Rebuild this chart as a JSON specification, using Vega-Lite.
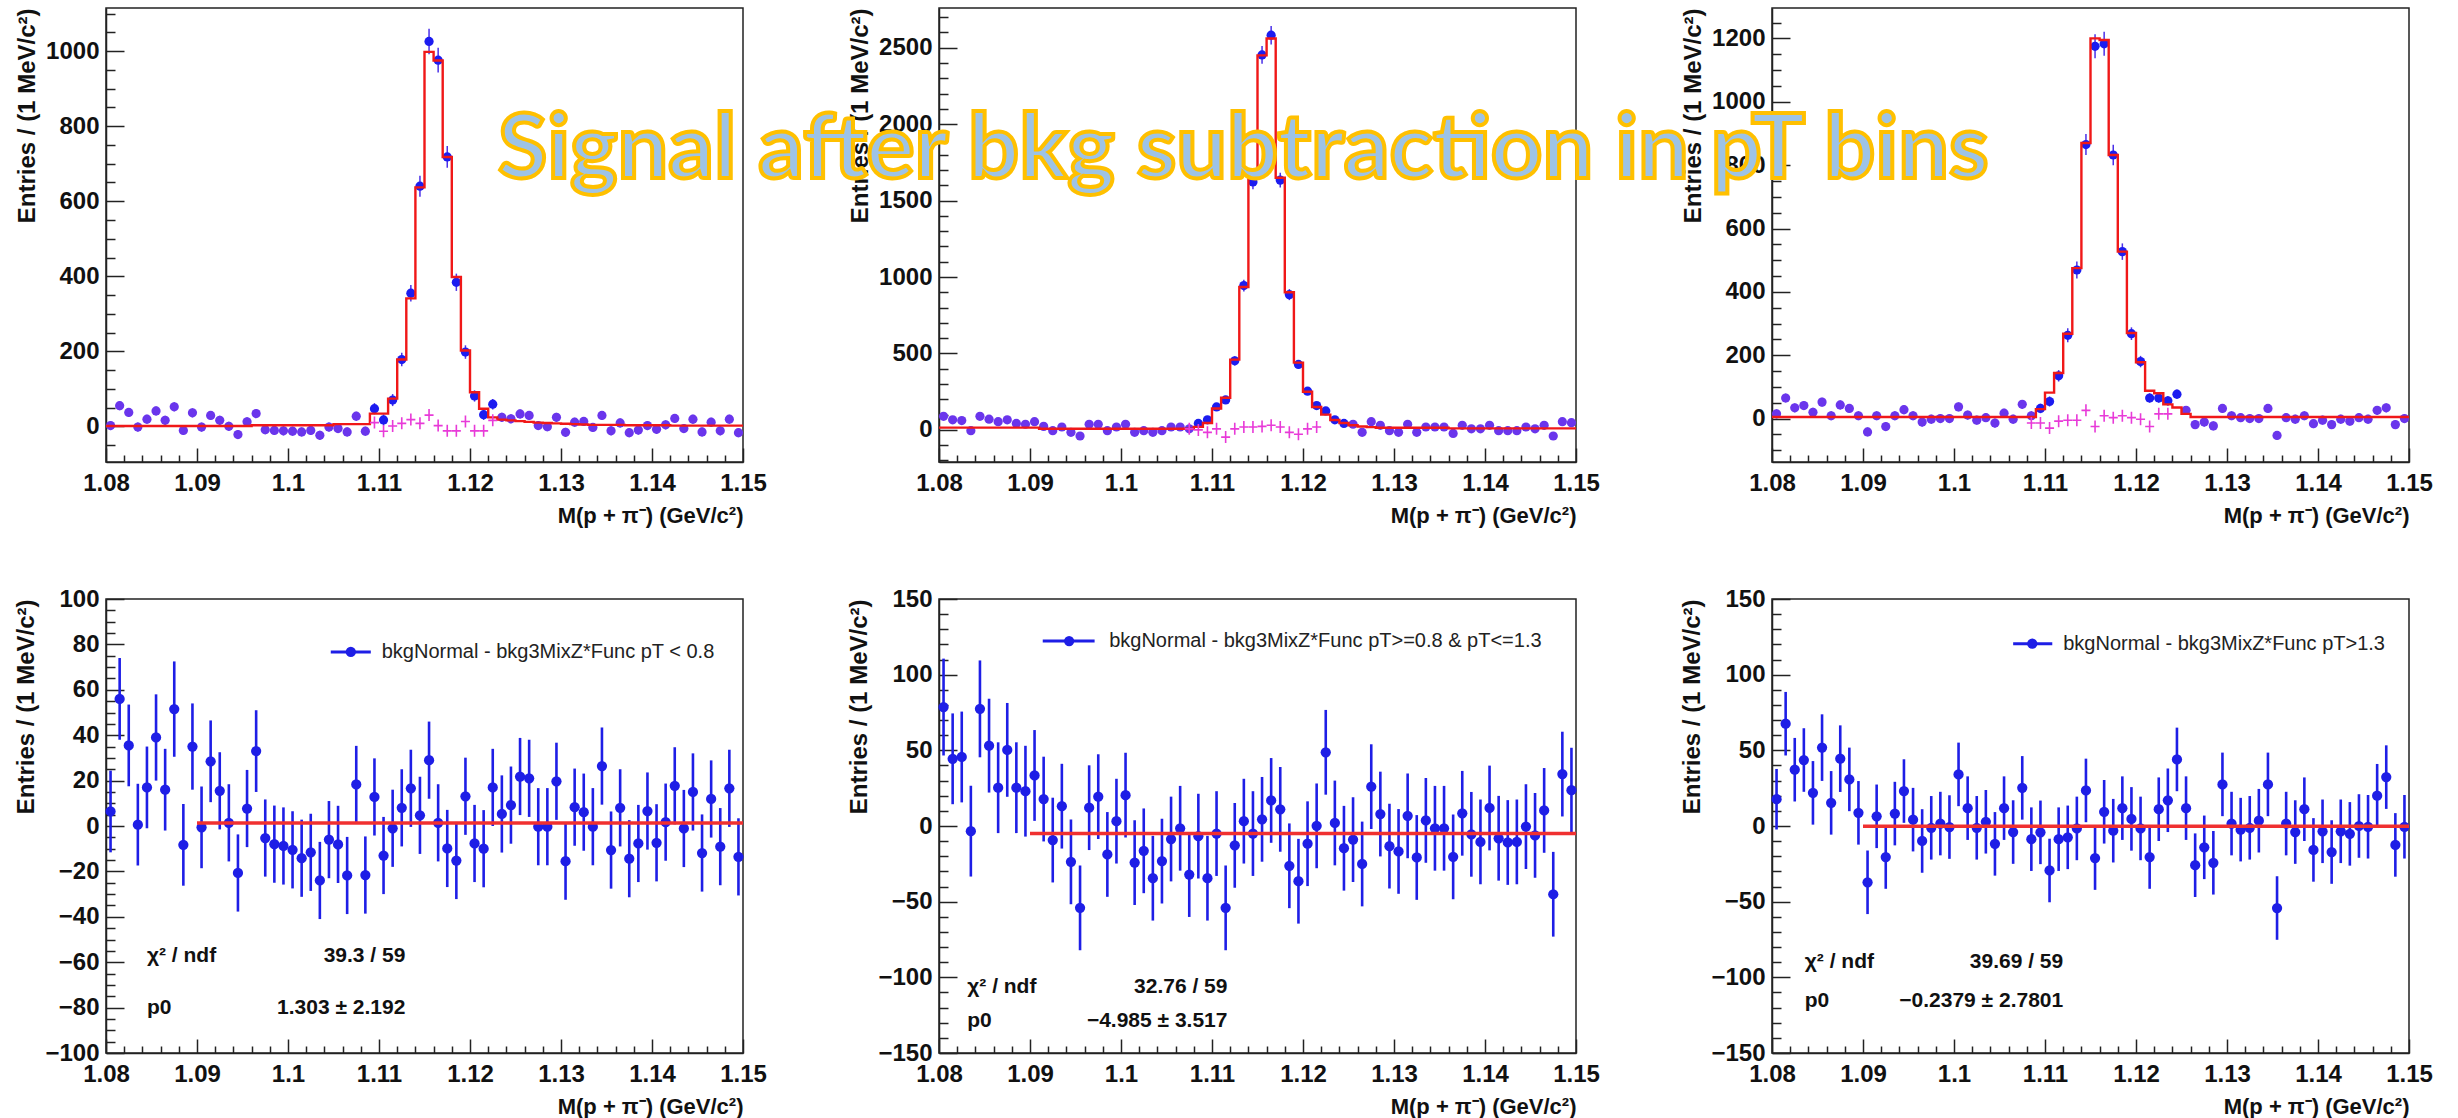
{
"$schema": "https://vega.github.io/schema/vega-lite/v6.json",
"background": "white",
"padding": {"left": 14, "top": 0, "right": 2, "bottom": 0},
"columns": 3,
"spacing": {"row": 137, "column": 196},
"bounds": "flush",
"config": {
  "view": {"stroke": "#222", "strokeWidth": 1.5},
  "font": "Liberation Sans",
  "axis": {"labelFont": "Liberation Sans", "labelFontSize": 24, "labelFontWeight": "bold", "labelColor": "#111", "titleFont": "Liberation Sans", "titleFontSize": 24, "titleFontWeight": "bold", "titleColor": "#111", "domainColor": "#222", "domainWidth": 1.5, "tickColor": "#222", "tickWidth": 1.5, "grid": false, "labelOverlap": false, "labelFlush": false}
},
"datasets": {
  "t1d": [
    {"x":1.0805,"y":2,"e":12,"r":"s"},{"x":1.0815,"y":55,"e":12,"r":"s"},{"x":1.0825,"y":37,"e":12,"r":"s"},{"x":1.0835,"y":-2,"e":12,"r":"s"},{"x":1.0845,"y":19,"e":12,"r":"s"},{"x":1.0855,"y":41,"e":12,"r":"s"},{"x":1.0865,"y":16,"e":12,"r":"s"},{"x":1.0875,"y":52,"e":12,"r":"s"},{"x":1.0885,"y":-11,"e":12,"r":"s"},{"x":1.0895,"y":36,"e":12,"r":"s"},
    {"x":1.0905,"y":-2,"e":12,"r":"s"},{"x":1.0915,"y":29,"e":12,"r":"s"},{"x":1.0925,"y":16,"e":12,"r":"s"},{"x":1.0935,"y":0,"e":12,"r":"s"},{"x":1.0945,"y":-22,"e":12,"r":"s"},{"x":1.0955,"y":12,"e":12,"r":"s"},{"x":1.0965,"y":34,"e":12,"r":"s"},{"x":1.0975,"y":-9,"e":12,"r":"s"},{"x":1.0985,"y":-11,"e":12,"r":"s"},{"x":1.0995,"y":-12,"e":12,"r":"s"},
    {"x":1.1005,"y":-13,"e":12,"r":"s"},{"x":1.1015,"y":-15,"e":12,"r":"s"},{"x":1.1025,"y":-11,"e":12,"r":"s"},{"x":1.1035,"y":-24,"e":12,"r":"s"},{"x":1.1045,"y":-2,"e":12,"r":"s"},{"x":1.1055,"y":-6,"e":12,"r":"s"},{"x":1.1065,"y":-15,"e":12,"r":"s"},{"x":1.1075,"y":27,"e":12,"r":"s"},{"x":1.1085,"y":-13,"e":12,"r":"s"},{"x":1.1095,"y":47,"e":15,"r":"p"},
    {"x":1.1105,"y":17,"e":15,"r":"p"},{"x":1.1115,"y":70,"e":16,"r":"p"},{"x":1.1125,"y":178,"e":18,"r":"p"},{"x":1.1135,"y":355,"e":22,"r":"p"},{"x":1.1145,"y":640,"e":28,"r":"p"},{"x":1.1155,"y":1026,"e":34,"r":"p"},{"x":1.1165,"y":976,"e":33,"r":"p"},{"x":1.1175,"y":718,"e":29,"r":"p"},{"x":1.1185,"y":384,"e":23,"r":"p"},{"x":1.1195,"y":198,"e":18,"r":"p"},
    {"x":1.1205,"y":81,"e":15,"r":"p"},{"x":1.1215,"y":31,"e":14,"r":"p"},{"x":1.1225,"y":59,"e":14,"r":"p"},{"x":1.1235,"y":24,"e":12,"r":"s"},{"x":1.1245,"y":20,"e":12,"r":"s"},{"x":1.1255,"y":33,"e":12,"r":"s"},{"x":1.1265,"y":29,"e":12,"r":"s"},{"x":1.1275,"y":2,"e":12,"r":"s"},{"x":1.1285,"y":-1,"e":12,"r":"s"},{"x":1.1295,"y":24,"e":12,"r":"s"},
    {"x":1.1305,"y":-16,"e":12,"r":"s"},{"x":1.1315,"y":11,"e":12,"r":"s"},{"x":1.1325,"y":13,"e":12,"r":"s"},{"x":1.1335,"y":-3,"e":12,"r":"s"},{"x":1.1345,"y":29,"e":12,"r":"s"},{"x":1.1355,"y":-12,"e":12,"r":"s"},{"x":1.1365,"y":9,"e":12,"r":"s"},{"x":1.1375,"y":-17,"e":12,"r":"s"},{"x":1.1385,"y":-10,"e":12,"r":"s"},{"x":1.1395,"y":2,"e":12,"r":"s"},
    {"x":1.1405,"y":-8,"e":12,"r":"s"},{"x":1.1415,"y":4,"e":12,"r":"s"},{"x":1.1425,"y":21,"e":12,"r":"s"},{"x":1.1435,"y":-6,"e":12,"r":"s"},{"x":1.1445,"y":19,"e":12,"r":"s"},{"x":1.1455,"y":-15,"e":12,"r":"s"},{"x":1.1465,"y":11,"e":12,"r":"s"},{"x":1.1475,"y":-12,"e":12,"r":"s"},{"x":1.1485,"y":19,"e":12,"r":"s"},{"x":1.1495,"y":-17,"e":12,"r":"s"}
  ],
  "t1h": [
    {"x":1.08,"y":1},{"x":1.0805,"y":1},{"x":1.0815,"y":1},{"x":1.0825,"y":1},{"x":1.0835,"y":1},{"x":1.0845,"y":1},{"x":1.0855,"y":1},{"x":1.0865,"y":1},{"x":1.0875,"y":1},{"x":1.0885,"y":1},{"x":1.0895,"y":1},
    {"x":1.0905,"y":1},{"x":1.0915,"y":1},{"x":1.0925,"y":1},{"x":1.0935,"y":1},{"x":1.0945,"y":1},{"x":1.0955,"y":1},{"x":1.0965,"y":3},{"x":1.0975,"y":3},{"x":1.0985,"y":3},{"x":1.0995,"y":3},
    {"x":1.1005,"y":3},{"x":1.1015,"y":3},{"x":1.1025,"y":3},{"x":1.1035,"y":3},{"x":1.1045,"y":3},{"x":1.1055,"y":6},{"x":1.1065,"y":6},{"x":1.1075,"y":6},{"x":1.1085,"y":6},{"x":1.1095,"y":34},
    {"x":1.1105,"y":34},{"x":1.1115,"y":74},{"x":1.1125,"y":178},{"x":1.1135,"y":341},{"x":1.1145,"y":637},{"x":1.1155,"y":998},{"x":1.1165,"y":975},{"x":1.1175,"y":718},{"x":1.1185,"y":398},{"x":1.1195,"y":202},
    {"x":1.1205,"y":91},{"x":1.1215,"y":47},{"x":1.1225,"y":24},{"x":1.1235,"y":18},{"x":1.1245,"y":16},{"x":1.1255,"y":14},{"x":1.1265,"y":12},{"x":1.1275,"y":10},{"x":1.1285,"y":9},{"x":1.1295,"y":8},
    {"x":1.1305,"y":7},{"x":1.1315,"y":6},{"x":1.1325,"y":5},{"x":1.1335,"y":4},{"x":1.1345,"y":4},{"x":1.1355,"y":4},{"x":1.1365,"y":4},{"x":1.1375,"y":3},{"x":1.1385,"y":3},{"x":1.1395,"y":3},
    {"x":1.1405,"y":3},{"x":1.1415,"y":3},{"x":1.1425,"y":2},{"x":1.1435,"y":2},{"x":1.1445,"y":2},{"x":1.1455,"y":2},{"x":1.1465,"y":2},{"x":1.1475,"y":2},{"x":1.1485,"y":2},{"x":1.1495,"y":2},{"x":1.15,"y":2}
  ],
  "t1c": [
    {"x":1.1095,"y":10},{"x":1.1105,"y":-13},{"x":1.1115,"y":1},{"x":1.1125,"y":8},{"x":1.1135,"y":18},{"x":1.1145,"y":8},{"x":1.1155,"y":30},{"x":1.1165,"y":2},{"x":1.1175,"y":-12},{"x":1.1185,"y":-12},{"x":1.1195,"y":13},{"x":1.1205,"y":-12},{"x":1.1215,"y":-12},{"x":1.1225,"y":16}
  ],
  "t2d": [
    {"x":1.0805,"y":89,"e":22,"r":"s"},{"x":1.0815,"y":66,"e":22,"r":"s"},{"x":1.0825,"y":61,"e":22,"r":"s"},{"x":1.0835,"y":-5,"e":22,"r":"s"},{"x":1.0845,"y":89,"e":22,"r":"s"},{"x":1.0855,"y":70,"e":22,"r":"s"},{"x":1.0865,"y":54,"e":22,"r":"s"},{"x":1.0875,"y":66,"e":22,"r":"s"},{"x":1.0885,"y":42,"e":22,"r":"s"},{"x":1.0895,"y":37,"e":22,"r":"s"},
    {"x":1.0905,"y":54,"e":22,"r":"s"},{"x":1.0915,"y":23,"e":22,"r":"s"},{"x":1.0925,"y":-5,"e":22,"r":"s"},{"x":1.0935,"y":19,"e":22,"r":"s"},{"x":1.0945,"y":-16,"e":22,"r":"s"},{"x":1.0955,"y":-40,"e":22,"r":"s"},{"x":1.0965,"y":37,"e":22,"r":"s"},{"x":1.0975,"y":37,"e":22,"r":"s"},{"x":1.0985,"y":-5,"e":22,"r":"s"},{"x":1.0995,"y":19,"e":22,"r":"s"},
    {"x":1.1005,"y":37,"e":22,"r":"s"},{"x":1.1015,"y":-16,"e":22,"r":"s"},{"x":1.1025,"y":-5,"e":22,"r":"s"},{"x":1.1035,"y":-16,"e":22,"r":"s"},{"x":1.1045,"y":-5,"e":22,"r":"s"},{"x":1.1055,"y":19,"e":22,"r":"s"},{"x":1.1065,"y":19,"e":22,"r":"s"},{"x":1.1075,"y":7,"e":22,"r":"s"},{"x":1.1085,"y":42,"e":22,"r":"p"},{"x":1.1095,"y":66,"e":22,"r":"p"},
    {"x":1.1105,"y":150,"e":24,"r":"p"},{"x":1.1115,"y":196,"e":25,"r":"p"},{"x":1.1125,"y":452,"e":30,"r":"p"},{"x":1.1135,"y":944,"e":38,"r":"p"},{"x":1.1145,"y":1622,"e":48,"r":"p"},{"x":1.1155,"y":2453,"e":58,"r":"p"},{"x":1.1165,"y":2582,"e":60,"r":"p"},{"x":1.1175,"y":1634,"e":48,"r":"p"},{"x":1.1185,"y":885,"e":36,"r":"p"},{"x":1.1195,"y":428,"e":28,"r":"p"},
    {"x":1.1205,"y":253,"e":25,"r":"p"},{"x":1.1215,"y":159,"e":23,"r":"p"},{"x":1.1225,"y":124,"e":23,"r":"p"},{"x":1.1235,"y":66,"e":22,"r":"p"},{"x":1.1245,"y":42,"e":22,"r":"p"},{"x":1.1255,"y":37,"e":22,"r":"s"},{"x":1.1265,"y":-16,"e":22,"r":"s"},{"x":1.1275,"y":54,"e":22,"r":"s"},{"x":1.1285,"y":30,"e":22,"r":"s"},{"x":1.1295,"y":-5,"e":22,"r":"s"},
    {"x":1.1305,"y":-16,"e":22,"r":"s"},{"x":1.1315,"y":37,"e":22,"r":"s"},{"x":1.1325,"y":-16,"e":22,"r":"s"},{"x":1.1335,"y":19,"e":22,"r":"s"},{"x":1.1345,"y":19,"e":22,"r":"s"},{"x":1.1355,"y":19,"e":22,"r":"s"},{"x":1.1365,"y":-23,"e":22,"r":"s"},{"x":1.1375,"y":30,"e":22,"r":"s"},{"x":1.1385,"y":7,"e":22,"r":"s"},{"x":1.1395,"y":7,"e":22,"r":"s"},
    {"x":1.1405,"y":30,"e":22,"r":"s"},{"x":1.1415,"y":-5,"e":22,"r":"s"},{"x":1.1425,"y":-5,"e":22,"r":"s"},{"x":1.1435,"y":-5,"e":22,"r":"s"},{"x":1.1445,"y":19,"e":22,"r":"s"},{"x":1.1455,"y":7,"e":22,"r":"s"},{"x":1.1465,"y":30,"e":22,"r":"s"},{"x":1.1475,"y":-40,"e":22,"r":"s"},{"x":1.1485,"y":54,"e":22,"r":"s"},{"x":1.1495,"y":47,"e":22,"r":"s"}
  ],
  "t2h": [
    {"x":1.08,"y":15},{"x":1.0805,"y":15},{"x":1.0815,"y":15},{"x":1.0825,"y":15},{"x":1.0835,"y":15},{"x":1.0845,"y":15},{"x":1.0855,"y":15},{"x":1.0865,"y":15},{"x":1.0875,"y":15},{"x":1.0885,"y":15},{"x":1.0895,"y":15},
    {"x":1.0905,"y":15},{"x":1.0915,"y":8},{"x":1.0925,"y":8},{"x":1.0935,"y":8},{"x":1.0945,"y":8},{"x":1.0955,"y":8},{"x":1.0965,"y":8},{"x":1.0975,"y":8},{"x":1.0985,"y":8},{"x":1.0995,"y":8},
    {"x":1.1005,"y":8},{"x":1.1015,"y":8},{"x":1.1025,"y":8},{"x":1.1035,"y":8},{"x":1.1045,"y":8},{"x":1.1055,"y":8},{"x":1.1065,"y":8},{"x":1.1075,"y":8},{"x":1.1085,"y":20},{"x":1.1095,"y":45},
    {"x":1.1105,"y":140},{"x":1.1115,"y":210},{"x":1.1125,"y":460},{"x":1.1135,"y":935},{"x":1.1145,"y":1650},{"x":1.1155,"y":2450},{"x":1.1165,"y":2560},{"x":1.1175,"y":1650},{"x":1.1185,"y":900},{"x":1.1195,"y":440},
    {"x":1.1205,"y":250},{"x":1.1215,"y":150},{"x":1.1225,"y":100},{"x":1.1235,"y":65},{"x":1.1245,"y":45},{"x":1.1255,"y":30},{"x":1.1265,"y":22},{"x":1.1275,"y":18},{"x":1.1285,"y":14},{"x":1.1295,"y":14},
    {"x":1.1305,"y":14},{"x":1.1315,"y":14},{"x":1.1325,"y":14},{"x":1.1335,"y":14},{"x":1.1345,"y":14},{"x":1.1355,"y":14},{"x":1.1365,"y":10},{"x":1.1375,"y":10},{"x":1.1385,"y":10},{"x":1.1395,"y":10},
    {"x":1.1405,"y":10},{"x":1.1415,"y":10},{"x":1.1425,"y":10},{"x":1.1435,"y":10},{"x":1.1445,"y":10},{"x":1.1455,"y":10},{"x":1.1465,"y":10},{"x":1.1475,"y":10},{"x":1.1485,"y":10},{"x":1.1495,"y":10},{"x":1.15,"y":10}
  ],
  "t2c": [
    {"x":1.1075,"y":7},{"x":1.1085,"y":0},{"x":1.1095,"y":-16},{"x":1.1105,"y":7},{"x":1.1115,"y":-47},{"x":1.1125,"y":7},{"x":1.1135,"y":19},{"x":1.1145,"y":19},{"x":1.1155,"y":23},{"x":1.1165,"y":30},{"x":1.1175,"y":19},{"x":1.1185,"y":-16},{"x":1.1195,"y":-28},{"x":1.1205,"y":7},{"x":1.1215,"y":19}
  ],
  "t3d": [
    {"x":1.0805,"y":15,"e":14,"r":"s"},{"x":1.0815,"y":65,"e":14,"r":"s"},{"x":1.0825,"y":34,"e":14,"r":"s"},{"x":1.0835,"y":41,"e":14,"r":"s"},{"x":1.0845,"y":20,"e":14,"r":"s"},{"x":1.0855,"y":52,"e":14,"r":"s"},{"x":1.0865,"y":9,"e":14,"r":"s"},{"x":1.0875,"y":43,"e":14,"r":"s"},{"x":1.0885,"y":32,"e":14,"r":"s"},{"x":1.0895,"y":9,"e":14,"r":"s"},
    {"x":1.0905,"y":-42,"e":14,"r":"s"},{"x":1.0915,"y":9,"e":14,"r":"s"},{"x":1.0925,"y":-25,"e":14,"r":"s"},{"x":1.0935,"y":9,"e":14,"r":"s"},{"x":1.0945,"y":28,"e":14,"r":"s"},{"x":1.0955,"y":9,"e":14,"r":"s"},{"x":1.0965,"y":-11,"e":14,"r":"s"},{"x":1.0975,"y":-2,"e":14,"r":"s"},{"x":1.0985,"y":0,"e":14,"r":"s"},{"x":1.0995,"y":0,"e":14,"r":"s"},
    {"x":1.1005,"y":37,"e":14,"r":"s"},{"x":1.1015,"y":11,"e":14,"r":"s"},{"x":1.1025,"y":-5,"e":14,"r":"s"},{"x":1.1035,"y":3,"e":14,"r":"s"},{"x":1.1045,"y":-14,"e":14,"r":"s"},{"x":1.1055,"y":17,"e":14,"r":"s"},{"x":1.1065,"y":-2,"e":14,"r":"s"},{"x":1.1075,"y":45,"e":14,"r":"s"},{"x":1.1085,"y":9,"e":14,"r":"s"},{"x":1.1095,"y":32,"e":15,"r":"p"},
    {"x":1.1105,"y":54,"e":16,"r":"p"},{"x":1.1115,"y":135,"e":18,"r":"p"},{"x":1.1125,"y":263,"e":22,"r":"p"},{"x":1.1135,"y":469,"e":27,"r":"p"},{"x":1.1145,"y":865,"e":33,"r":"p"},{"x":1.1155,"y":1175,"e":38,"r":"p"},{"x":1.1165,"y":1183,"e":38,"r":"p"},{"x":1.1175,"y":832,"e":32,"r":"p"},{"x":1.1185,"y":527,"e":26,"r":"p"},{"x":1.1195,"y":268,"e":20,"r":"p"},
    {"x":1.1205,"y":180,"e":18,"r":"p"},{"x":1.1215,"y":65,"e":15,"r":"p"},{"x":1.1225,"y":65,"e":15,"r":"p"},{"x":1.1235,"y":56,"e":15,"r":"p"},{"x":1.1245,"y":77,"e":15,"r":"p"},{"x":1.1255,"y":26,"e":14,"r":"s"},{"x":1.1265,"y":-19,"e":14,"r":"s"},{"x":1.1275,"y":-11,"e":14,"r":"s"},{"x":1.1285,"y":-23,"e":14,"r":"s"},{"x":1.1295,"y":32,"e":14,"r":"s"},
    {"x":1.1305,"y":9,"e":14,"r":"s"},{"x":1.1315,"y":3,"e":14,"r":"s"},{"x":1.1325,"y":0,"e":14,"r":"s"},{"x":1.1335,"y":0,"e":14,"r":"s"},{"x":1.1345,"y":32,"e":14,"r":"s"},{"x":1.1355,"y":-53,"e":14,"r":"s"},{"x":1.1365,"y":3,"e":14,"r":"s"},{"x":1.1375,"y":-2,"e":14,"r":"s"},{"x":1.1385,"y":9,"e":14,"r":"s"},{"x":1.1395,"y":-16,"e":14,"r":"s"},
    {"x":1.1405,"y":-5,"e":14,"r":"s"},{"x":1.1415,"y":-19,"e":14,"r":"s"},{"x":1.1425,"y":-2,"e":14,"r":"s"},{"x":1.1435,"y":-8,"e":14,"r":"s"},{"x":1.1445,"y":3,"e":14,"r":"s"},{"x":1.1455,"y":-2,"e":14,"r":"s"},{"x":1.1465,"y":26,"e":14,"r":"s"},{"x":1.1475,"y":34,"e":14,"r":"s"},{"x":1.1485,"y":-19,"e":14,"r":"s"},{"x":1.1495,"y":0,"e":14,"r":"s"}
  ],
  "t3h": [
    {"x":1.08,"y":5},{"x":1.0805,"y":5},{"x":1.0815,"y":5},{"x":1.0825,"y":5},{"x":1.0835,"y":5},{"x":1.0845,"y":5},{"x":1.0855,"y":5},{"x":1.0865,"y":5},{"x":1.0875,"y":5},{"x":1.0885,"y":5},{"x":1.0895,"y":5},
    {"x":1.0905,"y":5},{"x":1.0915,"y":5},{"x":1.0925,"y":5},{"x":1.0935,"y":5},{"x":1.0945,"y":5},{"x":1.0955,"y":5},{"x":1.0965,"y":5},{"x":1.0975,"y":5},{"x":1.0985,"y":5},{"x":1.0995,"y":5},
    {"x":1.1005,"y":5},{"x":1.1015,"y":5},{"x":1.1025,"y":5},{"x":1.1035,"y":5},{"x":1.1045,"y":5},{"x":1.1055,"y":5},{"x":1.1065,"y":5},{"x":1.1075,"y":5},{"x":1.1085,"y":5},{"x":1.1095,"y":30},
    {"x":1.1105,"y":82},{"x":1.1115,"y":144},{"x":1.1125,"y":268},{"x":1.1135,"y":475},{"x":1.1145,"y":870},{"x":1.1155,"y":1200},{"x":1.1165,"y":1195},{"x":1.1175,"y":832},{"x":1.1185,"y":527},{"x":1.1195,"y":270},
    {"x":1.1205,"y":178},{"x":1.1215,"y":88},{"x":1.1225,"y":80},{"x":1.1235,"y":45},{"x":1.1245,"y":35},{"x":1.1255,"y":15},{"x":1.1265,"y":5},{"x":1.1275,"y":5},{"x":1.1285,"y":5},{"x":1.1295,"y":5},
    {"x":1.1305,"y":5},{"x":1.1315,"y":5},{"x":1.1325,"y":5},{"x":1.1335,"y":5},{"x":1.1345,"y":5},{"x":1.1355,"y":5},{"x":1.1365,"y":5},{"x":1.1375,"y":5},{"x":1.1385,"y":5},{"x":1.1395,"y":5},
    {"x":1.1405,"y":5},{"x":1.1415,"y":5},{"x":1.1425,"y":5},{"x":1.1435,"y":5},{"x":1.1445,"y":5},{"x":1.1455,"y":5},{"x":1.1465,"y":5},{"x":1.1475,"y":5},{"x":1.1485,"y":5},{"x":1.1495,"y":5},{"x":1.15,"y":5}
  ],
  "t3c": [
    {"x":1.1085,"y":-14},{"x":1.1095,"y":-14},{"x":1.1105,"y":-30},{"x":1.1115,"y":-8},{"x":1.1125,"y":-5},{"x":1.1135,"y":-5},{"x":1.1145,"y":26},{"x":1.1155,"y":-25},{"x":1.1165,"y":9},{"x":1.1175,"y":3},{"x":1.1185,"y":9},{"x":1.1195,"y":3},{"x":1.1205,"y":-2},{"x":1.1215,"y":-25},{"x":1.1225,"y":15},{"x":1.1235,"y":15}
  ],
  "tt": [{"x":1.0219,"y":758,"t":"Signal after bkg subtraction in pT bins"}],
  "b1": [
    {"x":1.0805,"y":6.4,"e":18},{"x":1.0815,"y":56,"e":18},{"x":1.0825,"y":35.5,"e":18},{"x":1.0835,"y":0.6,"e":18},{"x":1.0845,"y":17,"e":18},{"x":1.0855,"y":39,"e":19},{"x":1.0865,"y":16,"e":18},{"x":1.0875,"y":51.5,"e":21},{"x":1.0885,"y":-8.3,"e":18},{"x":1.0895,"y":35,"e":19},
    {"x":1.0905,"y":-0.6,"e":18},{"x":1.0915,"y":28.5,"e":18},{"x":1.0925,"y":15.5,"e":17},{"x":1.0935,"y":1.4,"e":17},{"x":1.0945,"y":-20.7,"e":17},{"x":1.0955,"y":7.7,"e":17},{"x":1.0965,"y":33,"e":18},{"x":1.0975,"y":-5.3,"e":17},{"x":1.0985,"y":-8,"e":17},{"x":1.0995,"y":-8.8,"e":17},
    {"x":1.1005,"y":-10.5,"e":17},{"x":1.1015,"y":-14.2,"e":17},{"x":1.1025,"y":-11.6,"e":17},{"x":1.1035,"y":-24,"e":17},{"x":1.1045,"y":-6,"e":17},{"x":1.1055,"y":-8.1,"e":17},{"x":1.1065,"y":-21.8,"e":17},{"x":1.1075,"y":18.3,"e":17},{"x":1.1085,"y":-21.6,"e":17},{"x":1.1095,"y":12.8,"e":17},
    {"x":1.1105,"y":-13,"e":17},{"x":1.1115,"y":-1,"e":17},{"x":1.1125,"y":8,"e":17},{"x":1.1135,"y":16.6,"e":17},{"x":1.1145,"y":4.7,"e":17},{"x":1.1155,"y":29,"e":17},{"x":1.1165,"y":1.4,"e":17},{"x":1.1175,"y":-9.9,"e":17},{"x":1.1185,"y":-15.2,"e":17},{"x":1.1195,"y":13.1,"e":17},
    {"x":1.1205,"y":-7.7,"e":17},{"x":1.1215,"y":-10,"e":17},{"x":1.1225,"y":17,"e":17},{"x":1.1235,"y":5.3,"e":17},{"x":1.1245,"y":9.2,"e":17},{"x":1.1255,"y":21.8,"e":17},{"x":1.1265,"y":21,"e":17},{"x":1.1275,"y":-0.3,"e":17},{"x":1.1285,"y":-0.3,"e":17},{"x":1.1295,"y":19.7,"e":17},
    {"x":1.1305,"y":-15.5,"e":17},{"x":1.1315,"y":8.3,"e":17},{"x":1.1325,"y":6.1,"e":17},{"x":1.1335,"y":-0.3,"e":17},{"x":1.1345,"y":26.4,"e":17},{"x":1.1355,"y":-10.6,"e":17},{"x":1.1365,"y":8,"e":17},{"x":1.1375,"y":-14.4,"e":17},{"x":1.1385,"y":-7.7,"e":17},{"x":1.1395,"y":6.6,"e":17},
    {"x":1.1405,"y":-7.4,"e":17},{"x":1.1415,"y":1.7,"e":17},{"x":1.1425,"y":17.7,"e":17},{"x":1.1435,"y":-1.1,"e":17},{"x":1.1445,"y":15,"e":17},{"x":1.1455,"y":-11.9,"e":17},{"x":1.1465,"y":11.9,"e":17},{"x":1.1475,"y":-9.1,"e":17},{"x":1.1485,"y":16.6,"e":17},{"x":1.1495,"y":-13.6,"e":17}
  ],
  "b2": [
    {"x":1.0805,"y":78.6,"e":32},{"x":1.0815,"y":44.4,"e":30},{"x":1.0825,"y":45.6,"e":30},{"x":1.0835,"y":-3.4,"e":30},{"x":1.0845,"y":77.4,"e":32},{"x":1.0855,"y":53.1,"e":31},{"x":1.0865,"y":25.3,"e":30},{"x":1.0875,"y":50.3,"e":31},{"x":1.0885,"y":25.3,"e":30},{"x":1.0895,"y":23,"e":30},
    {"x":1.0905,"y":33.4,"e":30},{"x":1.0915,"y":17.8,"e":28},{"x":1.0925,"y":-9.3,"e":28},{"x":1.0935,"y":13.1,"e":28},{"x":1.0945,"y":-23.7,"e":28},{"x":1.0955,"y":-54.1,"e":28},{"x":1.0965,"y":12.1,"e":28},{"x":1.0975,"y":19.4,"e":28},{"x":1.0985,"y":-18.8,"e":28},{"x":1.0995,"y":3.2,"e":28},
    {"x":1.1005,"y":20.4,"e":28},{"x":1.1015,"y":-24.2,"e":28},{"x":1.1025,"y":-16.4,"e":28},{"x":1.1035,"y":-34.5,"e":28},{"x":1.1045,"y":-23.2,"e":28},{"x":1.1055,"y":-8.6,"e":28},{"x":1.1065,"y":-1.5,"e":28},{"x":1.1075,"y":-32.1,"e":28},{"x":1.1085,"y":-6.7,"e":28},{"x":1.1095,"y":-34.5,"e":28},
    {"x":1.1105,"y":-5,"e":28},{"x":1.1115,"y":-54.1,"e":28},{"x":1.1125,"y":-12.8,"e":28},{"x":1.1135,"y":3.2,"e":28},{"x":1.1145,"y":-5,"e":28},{"x":1.1155,"y":4.4,"e":28},{"x":1.1165,"y":16.9,"e":28},{"x":1.1175,"y":11,"e":28},{"x":1.1185,"y":-26.3,"e":28},{"x":1.1195,"y":-36.5,"e":28},
    {"x":1.1205,"y":-11.7,"e":28},{"x":1.1215,"y":0.1,"e":28},{"x":1.1225,"y":48.7,"e":28},{"x":1.1235,"y":2,"e":28},{"x":1.1245,"y":-14.7,"e":28},{"x":1.1255,"y":-9,"e":28},{"x":1.1265,"y":-25.1,"e":28},{"x":1.1275,"y":26,"e":28},{"x":1.1285,"y":7.9,"e":28},{"x":1.1295,"y":-13.3,"e":28},
    {"x":1.1305,"y":-16.8,"e":28},{"x":1.1315,"y":6.7,"e":28},{"x":1.1325,"y":-20.8,"e":28},{"x":1.1335,"y":3.7,"e":28},{"x":1.1345,"y":-1.5,"e":28},{"x":1.1355,"y":-1.5,"e":28},{"x":1.1365,"y":-20.4,"e":28},{"x":1.1375,"y":8.4,"e":28},{"x":1.1385,"y":-5.5,"e":28},{"x":1.1395,"y":-10.5,"e":28},
    {"x":1.1405,"y":11.9,"e":28},{"x":1.1415,"y":-8.1,"e":28},{"x":1.1425,"y":-10.9,"e":28},{"x":1.1435,"y":-10.5,"e":28},{"x":1.1445,"y":-0.4,"e":28},{"x":1.1455,"y":-6.2,"e":28},{"x":1.1465,"y":10.3,"e":28},{"x":1.1475,"y":-45.1,"e":28},{"x":1.1485,"y":34.3,"e":28},{"x":1.1495,"y":23.7,"e":28}
  ],
  "b3": [
    {"x":1.0805,"y":17.7,"e":20},{"x":1.0815,"y":67.6,"e":21},{"x":1.0825,"y":37.2,"e":21},{"x":1.0835,"y":43.6,"e":21},{"x":1.0845,"y":21.9,"e":21},{"x":1.0855,"y":51.8,"e":22},{"x":1.0865,"y":15.3,"e":21},{"x":1.0875,"y":44.5,"e":22},{"x":1.0885,"y":30.8,"e":21},{"x":1.0895,"y":8.7,"e":21},
    {"x":1.0905,"y":-37.2,"e":21},{"x":1.0915,"y":6.4,"e":21},{"x":1.0925,"y":-20.5,"e":21},{"x":1.0935,"y":8.2,"e":21},{"x":1.0945,"y":23.1,"e":21},{"x":1.0955,"y":4.2,"e":21},{"x":1.0965,"y":-9.9,"e":21},{"x":1.0975,"y":-1.2,"e":21},{"x":1.0985,"y":1.6,"e":21},{"x":1.0995,"y":-0.7,"e":21},
    {"x":1.1005,"y":34.1,"e":21},{"x":1.1015,"y":11.8,"e":21},{"x":1.1025,"y":-1.2,"e":21},{"x":1.1035,"y":2.8,"e":21},{"x":1.1045,"y":-11.8,"e":21},{"x":1.1055,"y":11.8,"e":21},{"x":1.1065,"y":-4,"e":21},{"x":1.1075,"y":25.2,"e":21},{"x":1.1085,"y":-8.7,"e":21},{"x":1.1095,"y":-4.2,"e":21},
    {"x":1.1105,"y":-29.4,"e":21},{"x":1.1115,"y":-8.7,"e":21},{"x":1.1125,"y":-7.5,"e":21},{"x":1.1135,"y":-1.6,"e":21},{"x":1.1145,"y":23.5,"e":21},{"x":1.1155,"y":-21.2,"e":21},{"x":1.1165,"y":9.4,"e":21},{"x":1.1175,"y":-3.1,"e":21},{"x":1.1185,"y":11.8,"e":21},{"x":1.1195,"y":4.7,"e":21},
    {"x":1.1205,"y":-1.6,"e":21},{"x":1.1215,"y":-20.5,"e":21},{"x":1.1225,"y":11.1,"e":21},{"x":1.1235,"y":17,"e":21},{"x":1.1245,"y":44,"e":21},{"x":1.1255,"y":11.8,"e":21},{"x":1.1265,"y":-25.9,"e":21},{"x":1.1275,"y":-14.1,"e":21},{"x":1.1285,"y":-24.3,"e":21},{"x":1.1295,"y":27.5,"e":21},
    {"x":1.1305,"y":1.6,"e":21},{"x":1.1315,"y":-2.4,"e":21},{"x":1.1325,"y":-1.2,"e":21},{"x":1.1335,"y":3.5,"e":21},{"x":1.1345,"y":27.5,"e":21},{"x":1.1355,"y":-54.2,"e":21},{"x":1.1365,"y":1.6,"e":21},{"x":1.1375,"y":-4,"e":21},{"x":1.1385,"y":11.1,"e":21},{"x":1.1395,"y":-15.8,"e":21},
    {"x":1.1405,"y":-3.5,"e":21},{"x":1.1415,"y":-17.2,"e":21},{"x":1.1425,"y":-3.5,"e":21},{"x":1.1435,"y":-5.2,"e":21},{"x":1.1445,"y":0,"e":21},{"x":1.1455,"y":-0.5,"e":21},{"x":1.1465,"y":20,"e":21},{"x":1.1475,"y":32.3,"e":21},{"x":1.1485,"y":-12.5,"e":21},{"x":1.1495,"y":-0.5,"e":21}
  ],
  "f1": [{"x":1.09,"x2":1.15,"y":1.303}],
  "f2": [{"x":1.09,"x2":1.15,"y":-4.985}],
  "f3": [{"x":1.09,"x2":1.15,"y":-0.2379}],
  "l1": [{"k":"line","x":1.1047,"x2":1.1091,"y":76.7},{"k":"dot","x":1.1069,"y":76.7},{"k":"text","x":1.1103,"y":76.7,"t":"bkgNormal - bkg3MixZ*Func pT < 0.8"}],
  "l2": [{"k":"line","x":1.0914,"x2":1.0971,"y":122.2},{"k":"dot","x":1.0943,"y":122.2},{"k":"text","x":1.0987,"y":122.2,"t":"bkgNormal - bkg3MixZ*Func pT>=0.8 & pT<=1.3"}],
  "l3": [{"k":"line","x":1.1065,"x2":1.1108,"y":120.5},{"k":"dot","x":1.1086,"y":120.5},{"k":"text","x":1.112,"y":120.5,"t":"bkgNormal - bkg3MixZ*Func pT>1.3"}],
  "s1": [{"k":"l","x":1.0845,"y":-57.3,"t":"χ² / ndf"},{"k":"r","x":1.1129,"y":-57.3,"t":"39.3 / 59"},{"k":"l","x":1.0845,"y":-80.2,"t":"p0"},{"k":"r","x":1.1129,"y":-80.2,"t":"1.303 ± 2.192"}],
  "s2": [{"k":"l","x":1.0831,"y":-106.4,"t":"χ² / ndf"},{"k":"r","x":1.1117,"y":-106.4,"t":"32.76 / 59"},{"k":"l","x":1.0831,"y":-128.8,"t":"p0"},{"k":"r","x":1.1117,"y":-128.8,"t":"−4.985 ± 3.517"}],
  "s3": [{"k":"l","x":1.0836,"y":-89.7,"t":"χ² / ndf"},{"k":"r","x":1.112,"y":-89.7,"t":"39.69 / 59"},{"k":"l","x":1.0836,"y":-115.6,"t":"p0"},{"k":"r","x":1.112,"y":-115.6,"t":"−0.2379 ± 2.7801"}]
},
"concat": [
  {
    "width": 637, "height": 454,
    "encoding": {
      "x": {"field": "x", "type": "quantitative", "scale": {"domain": [1.08, 1.15], "nice": false, "zero": false},
        "axis": {"values": [1.08,1.082,1.084,1.086,1.088,1.09,1.092,1.094,1.096,1.098,1.1,1.102,1.104,1.106,1.108,1.11,1.112,1.114,1.116,1.118,1.12,1.122,1.124,1.126,1.128,1.13,1.132,1.134,1.136,1.138,1.14,1.142,1.144,1.146,1.148,1.15], "labelExpr": "round(datum.value*1000) % 10 == 0 ? format(datum.value, '.2~f') : ''", "tickSize": {"condition": {"test": "round(datum.value*1000) % 10 == 0", "value": -14}, "value": -7}, "labelPadding": 23, "title": "M(p + π⁻) (GeV/c²)", "titleAnchor": "end", "titleFontSize": 22, "titlePadding": 3}},
      "y": {"field": "y", "type": "quantitative", "scale": {"domain": [-95, 1115], "nice": false, "zero": false},
        "axis": {"values": [-50,0,50,100,150,200,250,300,350,400,450,500,550,600,650,700,750,800,850,900,950,1000,1050,1100], "format": "d", "labelExpr": "datum.value % 200 == 0 ? datum.label : ''", "tickSize": {"condition": {"test": "datum.value % 200 == 0", "value": -18}, "value": -9}, "labelPadding": 25, "title": "Entries / (1 MeV/c²)", "titleAnchor": "end", "titlePadding": 6}}
    },
    "layer": [
      {"data": {"name": "t1d"}, "mark": {"type": "errorbar", "color": "#4a30e8", "thickness": 1.5}, "encoding": {"yError": {"field": "e"}}},
      {"data": {"name": "t1d"}, "mark": {"type": "point", "filled": true, "size": 85, "opacity": 1}, "encoding": {"color": {"field": "r", "type": "nominal", "scale": {"domain": ["s", "p"], "range": ["#6a35ec", "#1c1cf0"]}, "legend": null}}},
      {"data": {"name": "t1h"}, "mark": {"type": "line", "interpolate": "step", "color": "#f01818", "strokeWidth": 2.4}, "encoding": {}},
      {"data": {"name": "t1c"}, "mark": {"type": "point", "shape": "M-0.75,0L0.75,0M0,-1L0,1", "filled": false, "color": "#e83ad8", "strokeWidth": 1.6, "size": 144, "opacity": 1}}
    ]
  },
  {
    "width": 637, "height": 454,
    "encoding": {
      "x": {"field": "x", "type": "quantitative", "scale": {"domain": [1.08, 1.15], "nice": false, "zero": false},
        "axis": {"values": [1.08,1.082,1.084,1.086,1.088,1.09,1.092,1.094,1.096,1.098,1.1,1.102,1.104,1.106,1.108,1.11,1.112,1.114,1.116,1.118,1.12,1.122,1.124,1.126,1.128,1.13,1.132,1.134,1.136,1.138,1.14,1.142,1.144,1.146,1.148,1.15], "labelExpr": "round(datum.value*1000) % 10 == 0 ? format(datum.value, '.2~f') : ''", "tickSize": {"condition": {"test": "round(datum.value*1000) % 10 == 0", "value": -14}, "value": -7}, "labelPadding": 23, "title": "M(p + π⁻) (GeV/c²)", "titleAnchor": "end", "titleFontSize": 22, "titlePadding": 3}},
      "y": {"field": "y", "type": "quantitative", "scale": {"domain": [-210, 2760], "nice": false, "zero": false},
        "axis": {"values": [-200,-100,0,100,200,300,400,500,600,700,800,900,1000,1100,1200,1300,1400,1500,1600,1700,1800,1900,2000,2100,2200,2300,2400,2500,2600,2700], "format": "d", "labelExpr": "datum.value % 500 == 0 ? datum.label : ''", "tickSize": {"condition": {"test": "datum.value % 500 == 0", "value": -18}, "value": -9}, "labelPadding": 25, "title": "Entries / (1 MeV/c²)", "titleAnchor": "end", "titlePadding": 6}}
    },
    "layer": [
      {"data": {"name": "t2d"}, "mark": {"type": "errorbar", "color": "#4a30e8", "thickness": 1.5}, "encoding": {"yError": {"field": "e"}}},
      {"data": {"name": "t2d"}, "mark": {"type": "point", "filled": true, "size": 85, "opacity": 1}, "encoding": {"color": {"field": "r", "type": "nominal", "scale": {"domain": ["s", "p"], "range": ["#6a35ec", "#1c1cf0"]}, "legend": null}}},
      {"data": {"name": "t2h"}, "mark": {"type": "line", "interpolate": "step", "color": "#f01818", "strokeWidth": 2.4}, "encoding": {}},
      {"data": {"name": "t2c"}, "mark": {"type": "point", "shape": "M-0.75,0L0.75,0M0,-1L0,1", "filled": false, "color": "#e83ad8", "strokeWidth": 1.6, "size": 144, "opacity": 1}}
    ]
  },
  {
    "width": 637, "height": 454,
    "encoding": {
      "x": {"field": "x", "type": "quantitative", "scale": {"domain": [1.08, 1.15], "nice": false, "zero": false},
        "axis": {"values": [1.08,1.082,1.084,1.086,1.088,1.09,1.092,1.094,1.096,1.098,1.1,1.102,1.104,1.106,1.108,1.11,1.112,1.114,1.116,1.118,1.12,1.122,1.124,1.126,1.128,1.13,1.132,1.134,1.136,1.138,1.14,1.142,1.144,1.146,1.148,1.15], "labelExpr": "round(datum.value*1000) % 10 == 0 ? format(datum.value, '.2~f') : ''", "tickSize": {"condition": {"test": "round(datum.value*1000) % 10 == 0", "value": -14}, "value": -7}, "labelPadding": 23, "title": "M(p + π⁻) (GeV/c²)", "titleAnchor": "end", "titleFontSize": 22, "titlePadding": 3}},
      "y": {"field": "y", "type": "quantitative", "scale": {"domain": [-137, 1296], "nice": false, "zero": false},
        "axis": {"values": [-100,-50,0,50,100,150,200,250,300,350,400,450,500,550,600,650,700,750,800,850,900,950,1000,1050,1100,1150,1200,1250], "format": "d", "labelExpr": "datum.value % 200 == 0 ? datum.label : ''", "tickSize": {"condition": {"test": "datum.value % 200 == 0", "value": -18}, "value": -9}, "labelPadding": 25, "title": "Entries / (1 MeV/c²)", "titleAnchor": "end", "titlePadding": 6}}
    },
    "layer": [
      {"data": {"name": "t3d"}, "mark": {"type": "errorbar", "color": "#4a30e8", "thickness": 1.5}, "encoding": {"yError": {"field": "e"}}},
      {"data": {"name": "t3d"}, "mark": {"type": "point", "filled": true, "size": 85, "opacity": 1}, "encoding": {"color": {"field": "r", "type": "nominal", "scale": {"domain": ["s", "p"], "range": ["#6a35ec", "#1c1cf0"]}, "legend": null}}},
      {"data": {"name": "t3h"}, "mark": {"type": "line", "interpolate": "step", "color": "#f01818", "strokeWidth": 2.4}, "encoding": {}},
      {"data": {"name": "t3c"}, "mark": {"type": "point", "shape": "M-0.75,0L0.75,0M0,-1L0,1", "filled": false, "color": "#e83ad8", "strokeWidth": 1.6, "size": 144, "opacity": 1}},
      {"data": {"name": "tt"}, "mark": {"type": "text", "font": "Lato", "fontSize": 90, "fontWeight": "bold", "fill": "#9dc3e6", "stroke": "#ffc000", "strokeWidth": 4, "align": "center", "baseline": "alphabetic"}, "encoding": {"text": {"field": "t"}}}
    ]
  },
  {
    "width": 637, "height": 454,
    "encoding": {
      "x": {"field": "x", "type": "quantitative", "scale": {"domain": [1.08, 1.15], "nice": false, "zero": false},
        "axis": {"values": [1.08,1.082,1.084,1.086,1.088,1.09,1.092,1.094,1.096,1.098,1.1,1.102,1.104,1.106,1.108,1.11,1.112,1.114,1.116,1.118,1.12,1.122,1.124,1.126,1.128,1.13,1.132,1.134,1.136,1.138,1.14,1.142,1.144,1.146,1.148,1.15], "labelExpr": "round(datum.value*1000) % 10 == 0 ? format(datum.value, '.2~f') : ''", "tickSize": {"condition": {"test": "round(datum.value*1000) % 10 == 0", "value": -14}, "value": -7}, "labelPadding": 23, "title": "M(p + π⁻) (GeV/c²)", "titleAnchor": "end", "titleFontSize": 22, "titlePadding": 3}},
      "y": {"field": "y", "type": "quantitative", "scale": {"domain": [-100, 100], "nice": false, "zero": false},
        "axis": {"values": [-100,-95,-90,-85,-80,-75,-70,-65,-60,-55,-50,-45,-40,-35,-30,-25,-20,-15,-10,-5,0,5,10,15,20,25,30,35,40,45,50,55,60,65,70,75,80,85,90,95,100], "format": "d", "labelExpr": "datum.value % 20 == 0 ? datum.label : ''", "tickSize": {"condition": {"test": "datum.value % 20 == 0", "value": -18}, "value": -9}, "labelPadding": 25, "title": "Entries / (1 MeV/c²)", "titleAnchor": "end", "titlePadding": 6}}
    },
    "layer": [
      {"data": {"name": "b1"}, "mark": {"type": "errorbar", "color": "#1e1ee6", "thickness": 2.6}, "encoding": {"yError": {"field": "e"}}},
      {"data": {"name": "b1"}, "mark": {"type": "point", "filled": true, "size": 105, "color": "#1e1ee6", "opacity": 1}},
      {"data": {"name": "f1"}, "mark": {"type": "rule", "color": "#f03030", "strokeWidth": 3.5}, "encoding": {"x2": {"field": "x2"}}},
      {"data": {"name": "l1"}, "transform": [{"filter": "datum.k == 'line'"}], "mark": {"type": "rule", "color": "#1e1ee6", "strokeWidth": 3}, "encoding": {"x2": {"field": "x2"}}},
      {"data": {"name": "l1"}, "transform": [{"filter": "datum.k == 'dot'"}], "mark": {"type": "point", "filled": true, "size": 105, "color": "#1e1ee6", "opacity": 1}},
      {"data": {"name": "l1"}, "transform": [{"filter": "datum.k == 'text'"}], "mark": {"type": "text", "align": "left", "baseline": "middle", "font": "Liberation Sans", "fontSize": 20, "color": "#222"}, "encoding": {"text": {"field": "t"}}},
      {"data": {"name": "s1"}, "transform": [{"filter": "datum.k == 'l'"}], "mark": {"type": "text", "align": "left", "baseline": "middle", "font": "Liberation Sans", "fontSize": 21, "fontWeight": "bold", "color": "#111"}, "encoding": {"text": {"field": "t"}}},
      {"data": {"name": "s1"}, "transform": [{"filter": "datum.k == 'r'"}], "mark": {"type": "text", "align": "right", "baseline": "middle", "font": "Liberation Sans", "fontSize": 21, "fontWeight": "bold", "color": "#111"}, "encoding": {"text": {"field": "t"}}}
    ]
  },
  {
    "width": 637, "height": 454,
    "encoding": {
      "x": {"field": "x", "type": "quantitative", "scale": {"domain": [1.08, 1.15], "nice": false, "zero": false},
        "axis": {"values": [1.08,1.082,1.084,1.086,1.088,1.09,1.092,1.094,1.096,1.098,1.1,1.102,1.104,1.106,1.108,1.11,1.112,1.114,1.116,1.118,1.12,1.122,1.124,1.126,1.128,1.13,1.132,1.134,1.136,1.138,1.14,1.142,1.144,1.146,1.148,1.15], "labelExpr": "round(datum.value*1000) % 10 == 0 ? format(datum.value, '.2~f') : ''", "tickSize": {"condition": {"test": "round(datum.value*1000) % 10 == 0", "value": -14}, "value": -7}, "labelPadding": 23, "title": "M(p + π⁻) (GeV/c²)", "titleAnchor": "end", "titleFontSize": 22, "titlePadding": 3}},
      "y": {"field": "y", "type": "quantitative", "scale": {"domain": [-150, 150], "nice": false, "zero": false},
        "axis": {"values": [-150,-140,-130,-120,-110,-100,-90,-80,-70,-60,-50,-40,-30,-20,-10,0,10,20,30,40,50,60,70,80,90,100,110,120,130,140,150], "format": "d", "labelExpr": "datum.value % 50 == 0 ? datum.label : ''", "tickSize": {"condition": {"test": "datum.value % 50 == 0", "value": -18}, "value": -9}, "labelPadding": 25, "title": "Entries / (1 MeV/c²)", "titleAnchor": "end", "titlePadding": 6}}
    },
    "layer": [
      {"data": {"name": "b2"}, "mark": {"type": "errorbar", "color": "#1e1ee6", "thickness": 2.6}, "encoding": {"yError": {"field": "e"}}},
      {"data": {"name": "b2"}, "mark": {"type": "point", "filled": true, "size": 105, "color": "#1e1ee6", "opacity": 1}},
      {"data": {"name": "f2"}, "mark": {"type": "rule", "color": "#f03030", "strokeWidth": 3.5}, "encoding": {"x2": {"field": "x2"}}},
      {"data": {"name": "l2"}, "transform": [{"filter": "datum.k == 'line'"}], "mark": {"type": "rule", "color": "#1e1ee6", "strokeWidth": 3}, "encoding": {"x2": {"field": "x2"}}},
      {"data": {"name": "l2"}, "transform": [{"filter": "datum.k == 'dot'"}], "mark": {"type": "point", "filled": true, "size": 105, "color": "#1e1ee6", "opacity": 1}},
      {"data": {"name": "l2"}, "transform": [{"filter": "datum.k == 'text'"}], "mark": {"type": "text", "align": "left", "baseline": "middle", "font": "Liberation Sans", "fontSize": 20, "color": "#222"}, "encoding": {"text": {"field": "t"}}},
      {"data": {"name": "s2"}, "transform": [{"filter": "datum.k == 'l'"}], "mark": {"type": "text", "align": "left", "baseline": "middle", "font": "Liberation Sans", "fontSize": 21, "fontWeight": "bold", "color": "#111"}, "encoding": {"text": {"field": "t"}}},
      {"data": {"name": "s2"}, "transform": [{"filter": "datum.k == 'r'"}], "mark": {"type": "text", "align": "right", "baseline": "middle", "font": "Liberation Sans", "fontSize": 21, "fontWeight": "bold", "color": "#111"}, "encoding": {"text": {"field": "t"}}}
    ]
  },
  {
    "width": 637, "height": 454,
    "encoding": {
      "x": {"field": "x", "type": "quantitative", "scale": {"domain": [1.08, 1.15], "nice": false, "zero": false},
        "axis": {"values": [1.08,1.082,1.084,1.086,1.088,1.09,1.092,1.094,1.096,1.098,1.1,1.102,1.104,1.106,1.108,1.11,1.112,1.114,1.116,1.118,1.12,1.122,1.124,1.126,1.128,1.13,1.132,1.134,1.136,1.138,1.14,1.142,1.144,1.146,1.148,1.15], "labelExpr": "round(datum.value*1000) % 10 == 0 ? format(datum.value, '.2~f') : ''", "tickSize": {"condition": {"test": "round(datum.value*1000) % 10 == 0", "value": -14}, "value": -7}, "labelPadding": 23, "title": "M(p + π⁻) (GeV/c²)", "titleAnchor": "end", "titleFontSize": 22, "titlePadding": 3}},
      "y": {"field": "y", "type": "quantitative", "scale": {"domain": [-150, 150], "nice": false, "zero": false},
        "axis": {"values": [-150,-140,-130,-120,-110,-100,-90,-80,-70,-60,-50,-40,-30,-20,-10,0,10,20,30,40,50,60,70,80,90,100,110,120,130,140,150], "format": "d", "labelExpr": "datum.value % 50 == 0 ? datum.label : ''", "tickSize": {"condition": {"test": "datum.value % 50 == 0", "value": -18}, "value": -9}, "labelPadding": 25, "title": "Entries / (1 MeV/c²)", "titleAnchor": "end", "titlePadding": 6}}
    },
    "layer": [
      {"data": {"name": "b3"}, "mark": {"type": "errorbar", "color": "#1e1ee6", "thickness": 2.6}, "encoding": {"yError": {"field": "e"}}},
      {"data": {"name": "b3"}, "mark": {"type": "point", "filled": true, "size": 105, "color": "#1e1ee6", "opacity": 1}},
      {"data": {"name": "f3"}, "mark": {"type": "rule", "color": "#f03030", "strokeWidth": 3.5}, "encoding": {"x2": {"field": "x2"}}},
      {"data": {"name": "l3"}, "transform": [{"filter": "datum.k == 'line'"}], "mark": {"type": "rule", "color": "#1e1ee6", "strokeWidth": 3}, "encoding": {"x2": {"field": "x2"}}},
      {"data": {"name": "l3"}, "transform": [{"filter": "datum.k == 'dot'"}], "mark": {"type": "point", "filled": true, "size": 105, "color": "#1e1ee6", "opacity": 1}},
      {"data": {"name": "l3"}, "transform": [{"filter": "datum.k == 'text'"}], "mark": {"type": "text", "align": "left", "baseline": "middle", "font": "Liberation Sans", "fontSize": 20, "color": "#222"}, "encoding": {"text": {"field": "t"}}},
      {"data": {"name": "s3"}, "transform": [{"filter": "datum.k == 'l'"}], "mark": {"type": "text", "align": "left", "baseline": "middle", "font": "Liberation Sans", "fontSize": 21, "fontWeight": "bold", "color": "#111"}, "encoding": {"text": {"field": "t"}}},
      {"data": {"name": "s3"}, "transform": [{"filter": "datum.k == 'r'"}], "mark": {"type": "text", "align": "right", "baseline": "middle", "font": "Liberation Sans", "fontSize": 21, "fontWeight": "bold", "color": "#111"}, "encoding": {"text": {"field": "t"}}}
    ]
  }
]
}
